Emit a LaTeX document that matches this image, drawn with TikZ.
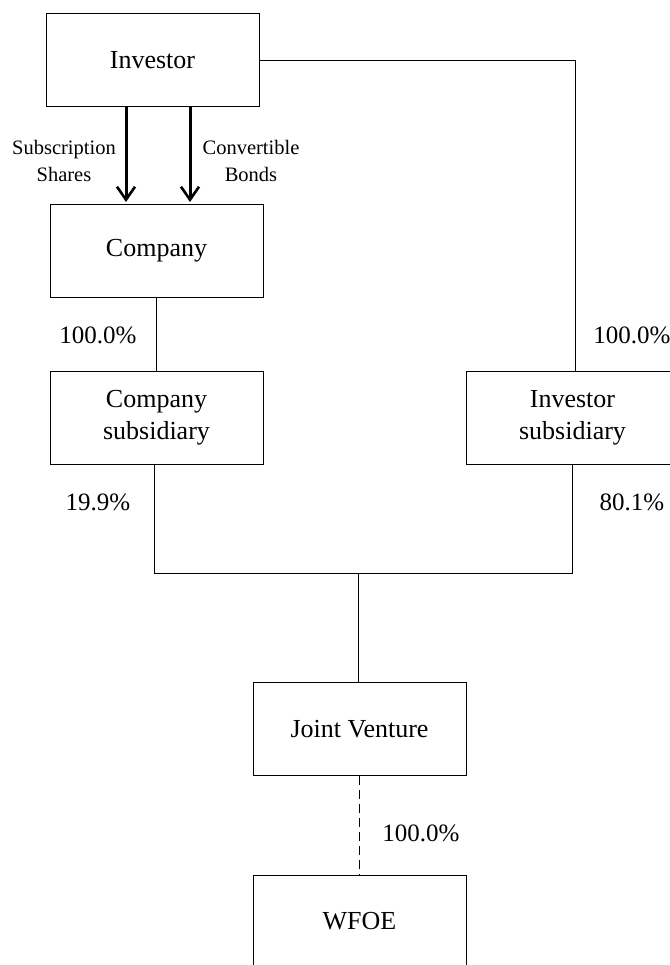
\documentclass[tikz,border=0pt]{standalone}
\usepackage{fontspec}
\setmainfont{Liberation Serif}
\usetikzlibrary{arrows.meta}
\tikzset{
  entbox/.style={draw=black,line width=1pt,minimum width=213pt,minimum height=93pt,align=center,inner sep=2pt},
  ownline/.style={line width=1pt,draw=black},
  owndash/.style={line width=1pt,draw=black,dash pattern=on 9pt off 5pt},
  flowarr/.style={-{Straight Barb[length=13pt,width=18pt,line width=2.6pt]},line width=3pt,shorten >=2pt},
  pct/.style={font=\fontsize{25}{29}\selectfont},
  flowlbl/.style={font=\fontsize{20.5}{27}\selectfont,align=center}
}

\begin{document}
\begin{tikzpicture}[x=1pt,y=-1pt,font=\fontsize{26}{32}\selectfont]
  \useasboundingbox (0,0) rectangle (669,965);
  % entities
  \node[entbox] (inv) at (152.5,60.5) {Investor};
  \node[entbox] (co) at (156.5,251) {Company};
  \node[entbox] (cosub) at (156.5,417.5) {Company\\ subsidiary};
  \node[entbox] (invsub) at (572.5,417.5) {Investor\\ subsidiary};
  \node[entbox] (jv) at (359.5,729) {Joint Venture};
  \node[entbox] (wfoe) at (359.5,921.5) {WFOE};
  % instruments going into the company
  \draw[flowarr] ([xshift=-26.5pt]inv.south) -- ([xshift=-26.5pt]inv.south |- co.north);
  \draw[flowarr] ([xshift=37.5pt]inv.south) -- ([xshift=37.5pt]inv.south |- co.north);
  \node[flowlbl] (subl) at (64,161) {Subscription\\ Shares};
  \node[flowlbl] (cbl) at (251,161) {Convertible\\ Bonds};
  % ownership
  \draw[ownline] (co) -- (cosub);
  \draw[ownline] (inv.east) -| ([xshift=3pt]invsub.north);
  \coordinate (jn) at (358.5,573.5);
  \draw[ownline] ([xshift=-2pt]cosub.south) |- (jn) -| (invsub.south);
  \draw[ownline] (jn) -- (jn |- jv.north);
  \draw[owndash] (jv.south) -- (jv.south |- wfoe.north);
  \node[pct] (p1) at (98,335) {100.0\%};
  \node[pct] (p2) at (98,502) {19.9\%};
  \node[pct] (p3) at (632,335) {100.0\%};
  \node[pct] (p4) at (632,502) {80.1\%};
  \node[pct] (p5) at (421,833) {100.0\%};
\end{tikzpicture}
\end{document}
